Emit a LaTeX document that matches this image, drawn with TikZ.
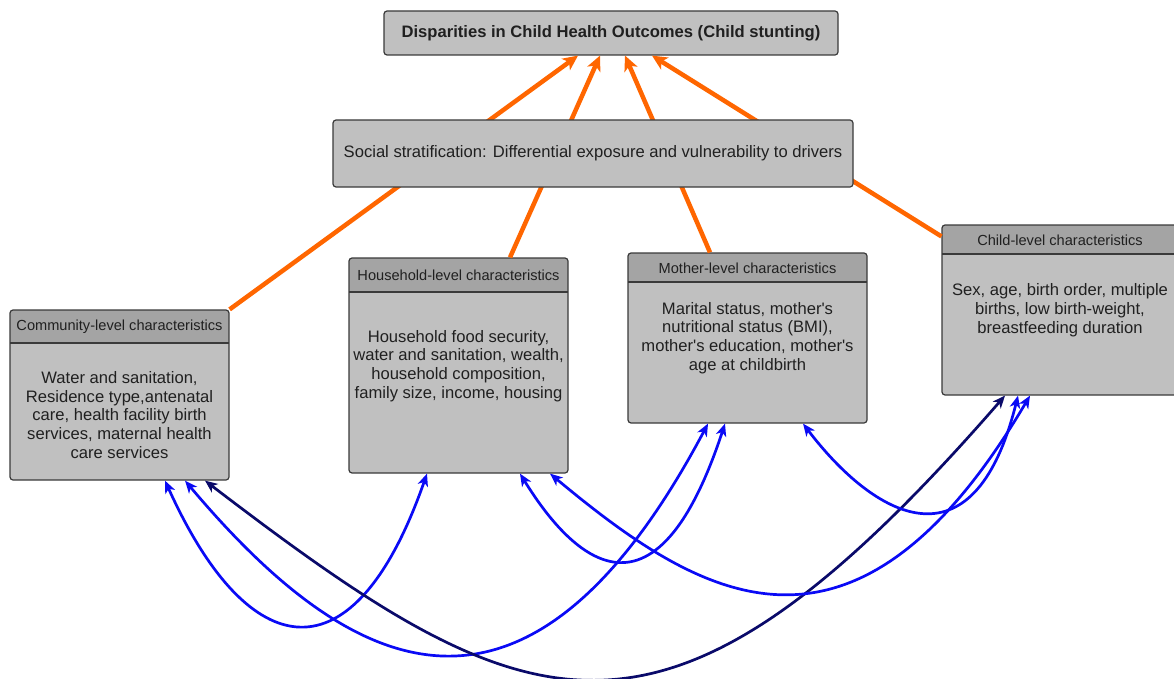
\documentclass[tikz,border=0pt]{standalone}
\usepackage{fontspec}
\setmainfont{Liberation Sans}
\usepackage{xcolor}
\usetikzlibrary{arrows.meta}
\usetikzlibrary{calc}

\definecolor{boxgray}{HTML}{C0C0C0}
\definecolor{headgray}{HTML}{A4A4A4}
\definecolor{edgegray}{HTML}{3A3A3A}
\definecolor{txtgray}{HTML}{202020}
\definecolor{linkorange}{HTML}{FF6600}
\definecolor{linkblue}{HTML}{0A0AF5}
\definecolor{linknavy}{HTML}{0A0A6A}

\tikzset{
    titlebox/.style={draw=edgegray, line width=1.2pt, fill=boxgray, rounded corners=3pt,
        text=txtgray, font=\fontsize{16.6}{19}\selectfont},
    panel/.style={draw=edgegray, line width=1.2pt, fill=boxgray, rounded corners=3pt, inner sep=0pt,
        path picture={
            \fill[headgray, sharp corners] (path picture bounding box.north west)
                rectangle ([yshift=-#1]path picture bounding box.north east);
            \draw[edgegray, line width=1.2pt] ([yshift=-#1]path picture bounding box.north west)
                -- ([yshift=-#1]path picture bounding box.north east);
        }},
    headtext/.style={text=txtgray, font=\fontsize{14.6}{17}\selectfont},
    bodytext/.style={text=txtgray, align=center, font=\fontsize{16.6}{18.8}\selectfont},
    orangelink/.style={draw=linkorange, line width=4.5pt,
        -{Stealth[length=15pt, width=14pt, inset=4pt]}},
    bluelink/.style={draw=linkblue, line width=2.7pt,
        {Stealth[length=12.5pt, width=10.5pt, inset=3.5pt]}-{Stealth[length=12.5pt, width=10.5pt, inset=3.5pt]}},
    navylink/.style={bluelink, draw=linknavy}
}

\begin{document}
\begin{tikzpicture}[x=1pt, y=-1pt]
    \useasboundingbox (0,0) rectangle (1174,679);

    % outcome at the top
    \node[titlebox, minimum width=454pt, minimum height=44pt] (outcome) at (611,33)
        {\bfseries Disparities in Child Health Outcomes (Child stunting)};

    % the four levels
    \node[panel=33pt, minimum width=219pt, minimum height=170pt] (comm) at (119.5,395) {};
    \node[headtext] (commhead) at (119.5,327) {Community-level characteristics};
    \node[bodytext] (commtxt) at (119.5,415) {Water and sanitation,\\Residence type,antenatal\\care, health facility birth\\services, maternal health\\care services};

    \node[panel=34pt, minimum width=219pt, minimum height=215pt] (house) at (458.5,365.5) {};
    \node[headtext] (househead) at (458.5,275) {Household-level characteristics};
    \node[bodytext] (housetxt) at (458.5,366) {Household food security,\\water and sanitation, wealth,\\household composition,\\family size, income, housing};

    \node[panel=29pt, minimum width=239pt, minimum height=170pt] (mother) at (747.5,338) {};
    \node[headtext] (motherhead) at (747.5,268) {Mother-level characteristics};
    \node[bodytext] (mothertxt) at (747.5,338) {Marital status, mother\textquotesingle s\\nutritional status (BMI),\\mother\textquotesingle s education, mother\textquotesingle s\\age at childbirth};

    \node[panel=29pt, minimum width=236pt, minimum height=170pt] (child) at (1060,310) {};
    \node[headtext] (childhead) at (1060,240) {Child-level characteristics};
    \node[bodytext] (childtxt) at (1060,310) {Sex, age, birth order, multiple\\births, low birth-weight,\\breastfeeding duration};

    % orange links, passing behind the stratification box
    \draw[orangelink] (comm.north east) -- ([xshift=-33pt]outcome.south);
    \draw[orangelink] ([xshift=51.5pt]house.north) -- ([xshift=-11pt]outcome.south);
    \draw[orangelink] ([xshift=-37.5pt]mother.north) -- ([xshift=14pt]outcome.south);
    \draw[orangelink] ([yshift=-12pt]child.north west) -- ([xshift=41pt]outcome.south);

    \node[titlebox, minimum width=520pt, minimum height=67pt] (social) at (593,153.5)
        {Social stratification: Differential exposure and vulnerability to drivers};

    % links between the levels
    \draw[bluelink] ([xshift=45.5pt]comm.south) .. controls +(84,186) and +(-73,209) .. ([xshift=-31.5pt]house.south);
    \draw[bluelink] ([xshift=65.5pt]comm.south) .. controls +(165,196) and +(-182,343) .. ([xshift=-39.5pt]mother.south);
    \draw[navylink] ([xshift=85.5pt]comm.south) .. controls +(327,250) and +(-341,392) .. ([xshift=-55pt]child.south);
    \draw[bluelink] ([xshift=61.5pt]house.south) .. controls +(42,68) and +(-75,228) .. ([xshift=-22.5pt]mother.south);
    \draw[bluelink] ([xshift=91.5pt]house.south) .. controls +(150,125) and +(-176,298) .. ([xshift=-30pt]child.south);
    \draw[bluelink] ([xshift=55.5pt]mother.south) .. controls +(70,92) and +(-45,180) .. ([xshift=-42pt]child.south);
\end{tikzpicture}
\end{document}
